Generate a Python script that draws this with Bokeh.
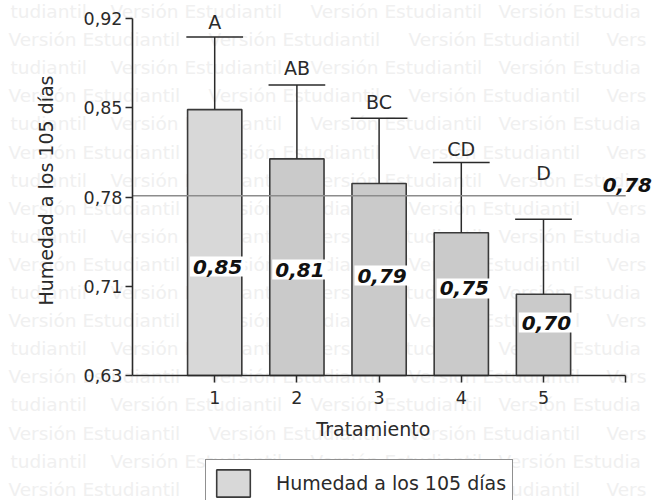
import math

from bokeh.core.properties import value
from bokeh.embed import file_html
from bokeh.models import (ColumnDataSource, FixedTicker, Label, LabelSet,
                          Legend, LegendItem, Range1d)
from bokeh.plotting import figure
from bokeh.resources import INLINE

# ---- data -------------------------------------------------------------
tratamientos = [1, 2, 3, 4, 5]
humedad = [0.85, 0.81, 0.79, 0.75, 0.70]
error_sup = [0.059, 0.060, 0.053, 0.057, 0.061]
letras = ["A", "AB", "BC", "CD", "D"]
media_general = 0.78

y_ticks = [0.634, 0.7065, 0.779, 0.8515, 0.924]
y_tick_labels = ["0,63", "0,71", "0,78", "0,85", "0,92"]
x_ticks = [1, 2, 3, 4, 5, 6]
x_tick_labels = ["1", "2", "3", "4", "5", ""]

# ---- layout / style ---------------------------------------------------
FONT = "DejaVu Sans"
INK = "#2a2a2a"
W, H = 653, 500
Y_BASE = y_ticks[0]          # value where the x axis sits
AXIS_PX_X, AXIS_PX_Y = 132, 375  # canvas pixel of the axes corner
PX_X = 82.2                  # pixels per treatment step
PX_Y = 357 / (y_ticks[-1] - y_ticks[0])


def px_to_x(px):
    return (px - AXIS_PX_X) / PX_X


def px_to_y(py):
    return Y_BASE + (AXIS_PX_Y - py) / PX_Y


bar_width = 0.66
cap_width = 0.69
bar_colors = ["#d8d8d8", "#cacaca", "#cacaca", "#cacaca", "#cacaca"]
valor_label_y = [0.7225, 0.7201, 0.7152, 0.7047, 0.677]
letra_y = [0.9208, 0.8834, 0.8558, 0.8176, 0.7989]

p = figure(
    width=W, height=H,
    x_range=Range1d(px_to_x(0), px_to_x(W)),
    y_range=Range1d(px_to_y(H), px_to_y(0)),
    output_backend="svg", toolbar_location=None, min_border=0,
    background_fill_color="white", border_fill_color="white",
)
p.outline_line_color = None
p.grid.grid_line_color = None

# background watermark, one row every ~28 px, alternate rows shifted
wm_rows_a = [("tudiantil", 10), ("Versión Estudiantil", 110),
             ("Versión Estudiantil", 310), ("Versión Estudia", 498)]
wm_rows_b = [("Versión Estudiantil", 8), ("Versión Estudiantil", 208),
             ("Versión Estudiantil", 408), ("Vers", 606)]
wm_x, wm_y, wm_t = [], [], []
for k in range(18):
    py = 11 + 28.1 * k
    for txt, px in (wm_rows_a if k % 2 == 0 else wm_rows_b):
        wm_x.append(px_to_x(px))
        wm_y.append(px_to_y(py))
        wm_t.append(txt)
wm_src = ColumnDataSource(dict(x=wm_x, y=wm_y, t=wm_t))
p.add_layout(LabelSet(
    x="x", y="y", text="t", source=wm_src, level="underlay",
    text_font=value(FONT), text_font_size=value("18.5px"),
    text_color="#f0f0f0", text_baseline="middle", text_align="left",
))

# bars
src = ColumnDataSource(dict(
    x=tratamientos, top=humedad, color=bar_colors,
    err_top=[h + e for h, e in zip(humedad, error_sup)],
    cap0=[x - cap_width / 2 for x in tratamientos],
    cap1=[x + cap_width / 2 for x in tratamientos],
))
bars = p.vbar(x="x", top="top", bottom=Y_BASE, width=bar_width, source=src,
              fill_color="color", line_color="#3a3a3a", line_width=1.6)

# upper error bars
p.segment(x0="x", y0="top", x1="x", y1="err_top", source=src,
          line_color=INK, line_width=1.5)
p.segment(x0="cap0", y0="err_top", x1="cap1", y1="err_top", source=src,
          line_color=INK, line_width=1.5)

# overall mean
p.segment(x0=[0], y0=[media_general], x1=[x_ticks[-1]], y1=[media_general],
          line_color="#8c8c8c", line_width=1.3)
p.add_layout(Label(
    x=5.72, y=media_general, y_offset=4,
    text=f"{media_general:.2f}".replace(".", ","),
    text_font=FONT, text_font_size="20px", text_font_style="bold italic",
    text_color="#111111", text_baseline="bottom", text_align="left",
))

# value labels and significance letters
for x, h, vy, let, ly in zip(tratamientos, humedad, valor_label_y, letras, letra_y):
    p.add_layout(Label(
        x=x, y=vy, x_offset=3, text=f"{h:.2f}".replace(".", ","),
        text_font=FONT, text_font_size="20px", text_font_style="bold italic",
        text_color="#111111", text_align="center", text_baseline="middle",
        background_fill_color="white", padding=3,
    ))
    p.add_layout(Label(
        x=x, y=ly, text=let,
        text_font=FONT, text_font_size="19px", text_color=INK,
        text_align="center", text_baseline="middle",
    ))

# axes drawn at fixed positions inside the canvas
p.xaxis.fixed_location = Y_BASE
p.yaxis.fixed_location = 0
p.yaxis.bounds = (Y_BASE, y_ticks[-1])
p.yaxis.ticker = FixedTicker(ticks=y_ticks)
p.yaxis.major_label_overrides = dict(zip(y_ticks, y_tick_labels))
p.xaxis.bounds = (0, x_ticks[-1])
p.xaxis.ticker = FixedTicker(ticks=x_ticks)
p.xaxis.major_label_overrides = dict(zip(x_ticks, x_tick_labels))
for ax in (p.xaxis, p.yaxis):
    ax.axis_line_color = INK
    ax.axis_line_width = 1.6
    ax.major_tick_line_color = INK
    ax.major_tick_line_width = 1.5
    ax.major_tick_out = 7
    ax.major_tick_in = 0
    ax.minor_tick_line_color = None
    ax.major_label_text_font = FONT
    ax.major_label_text_font_size = "17.5px"
    ax.major_label_text_color = INK
p.yaxis.major_label_standoff = 3
p.xaxis.major_label_standoff = 8

# axis titles
p.add_layout(Label(
    x=px_to_x(45), y=px_to_y(190), angle=math.pi / 2,
    text="Humedad a los 105 días", text_font=FONT, text_font_size="19px",
    text_color=INK, text_align="center", text_baseline="middle",
))
p.add_layout(Label(
    x=2.93, y=px_to_y(428), text="Tratamiento", text_font=FONT,
    text_font_size="19px", text_color=INK,
    text_align="center", text_baseline="middle",
))

# legend box at the bottom
legend = Legend(
    items=[LegendItem(label="Humedad a los 105 días", renderers=[bars], index=0)],
    location=(205, -7), orientation="vertical",
    glyph_width=42, glyph_height=34, label_standoff=22,
    padding=6, margin=0, spacing=0,
    label_text_font=FONT, label_text_font_size="19px", label_text_color=INK,
    border_line_color="#222222", border_line_width=1.5,
    background_fill_color="white", background_fill_alpha=1.0,
)
p.add_layout(legend)

open("out.html", "w").write(file_html(p, INLINE))
